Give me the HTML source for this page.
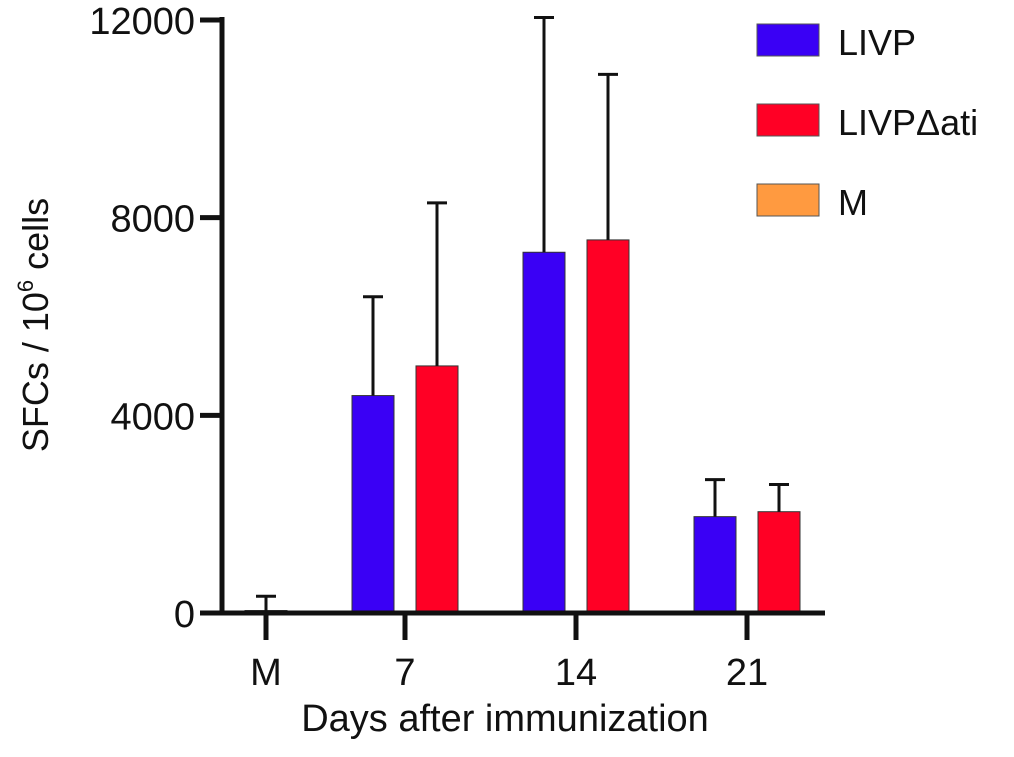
<!DOCTYPE html>
<html><head><meta charset="utf-8"><style>
body{margin:0;background:#fff;}
svg text{font-family:"Liberation Sans",sans-serif;fill:#111;}
</style></head><body>
<svg id="chart" width="1014" height="752" viewBox="0 0 1014 752" xmlns="http://www.w3.org/2000/svg">
<g id="bars"></g>
<g id="axes"></g>
<text transform="translate(48,325) rotate(-90)" text-anchor="middle" font-size="36">SFCs / 10<tspan font-size="22" dy="-15">6</tspan><tspan dy="15"> cells</tspan></text>
<text x="505" y="731" text-anchor="middle" font-size="38">Days after immunization</text>
<g>
<rect x="757" y="24" width="62" height="32" fill="#3a00f5" stroke="#555"/>
<text x="838" y="55" font-size="36">LIVP</text>
<rect x="757" y="104" width="62" height="32" fill="#ff0025" stroke="#555"/>
<text x="838" y="135" font-size="36">LIVPΔati</text>
<rect x="757" y="184" width="62" height="32" fill="#ff9a40" stroke="#555"/>
<text x="838" y="215" font-size="36">M</text>
</g>
</svg>
<script>
const categories = ["M","7","14","21"];
const livp = [null, 4400, 7300, 1950];
const livpErr = [null, 6400, 12050, 2700];
const ati = [null, 5000, 7550, 2050];
const atiErr = [null, 8300, 10900, 2600];
const mock = [50, null, null, null];
const mockErr = [340, null, null, null];
const yTicks = [0, 4000, 8000, 12000];

const NS = "http://www.w3.org/2000/svg";
const y0 = 613, yTop = 20, yMax = 12000;
const y = v => y0 - v / yMax * (y0 - yTop);
const centers = [266, 405, 576, 747];
const bw = 42;
const barsG = document.getElementById('bars');
const axesG = document.getElementById('axes');
function mk(tag, attrs, parent){const e=document.createElementNS(NS,tag);for(const k in attrs)e.setAttribute(k,attrs[k]);parent.appendChild(e);return e;}
function bar(cx, v, err, color, name){
  if(v==null) return;
  const r = mk('rect',{x:cx-bw/2,y:y(v),width:bw,height:y0-y(v),fill:color,stroke:'#333','stroke-width':1},barsG);
  
  
  const l = mk('path',{d:`M${cx},${y(v)}V${y(err)}M${cx-10},${y(err)}H${cx+10}`,stroke:'#111','stroke-width':3,fill:'none'},barsG);
  
  
}
categories.forEach((c,i)=>{
  const cx = centers[i];
  if(i===0){ bar(cx, mock[i], mockErr[i], '#ff9a40', 'bar-m-'+c); }
  else {
    bar(cx-32, livp[i], livpErr[i], '#3a00f5', 'bar-livp-day-'+c);
    bar(cx+32, ati[i], atiErr[i], '#ff0025', 'bar-livp-dati-day-'+c);
  }
  const t = mk('line',{x1:cx,x2:cx,y1:y0,y2:640,stroke:'#111','stroke-width':5},axesG);
  
  
  const lb = mk('text',{x:cx,y:685,'text-anchor':'middle','font-size':38},axesG);
  lb.textContent = c;
  
  
});
const ya = mk('line',{x1:222,x2:222,y1:17,y2:615,stroke:'#111','stroke-width':5},axesG);


const xa = mk('line',{x1:200,x2:825,y1:y0,y2:y0,stroke:'#111','stroke-width':5},axesG);


yTicks.forEach(v=>{
  const t = mk('line',{x1:200,x2:222,y1:y(v),y2:y(v),stroke:'#111','stroke-width':5},axesG);
  
  
  const lb = mk('text',{x:195,y:y(v)+14,'text-anchor':'end','font-size':38},axesG);
  lb.textContent = v;
  
  
});
</script>
</body></html>
